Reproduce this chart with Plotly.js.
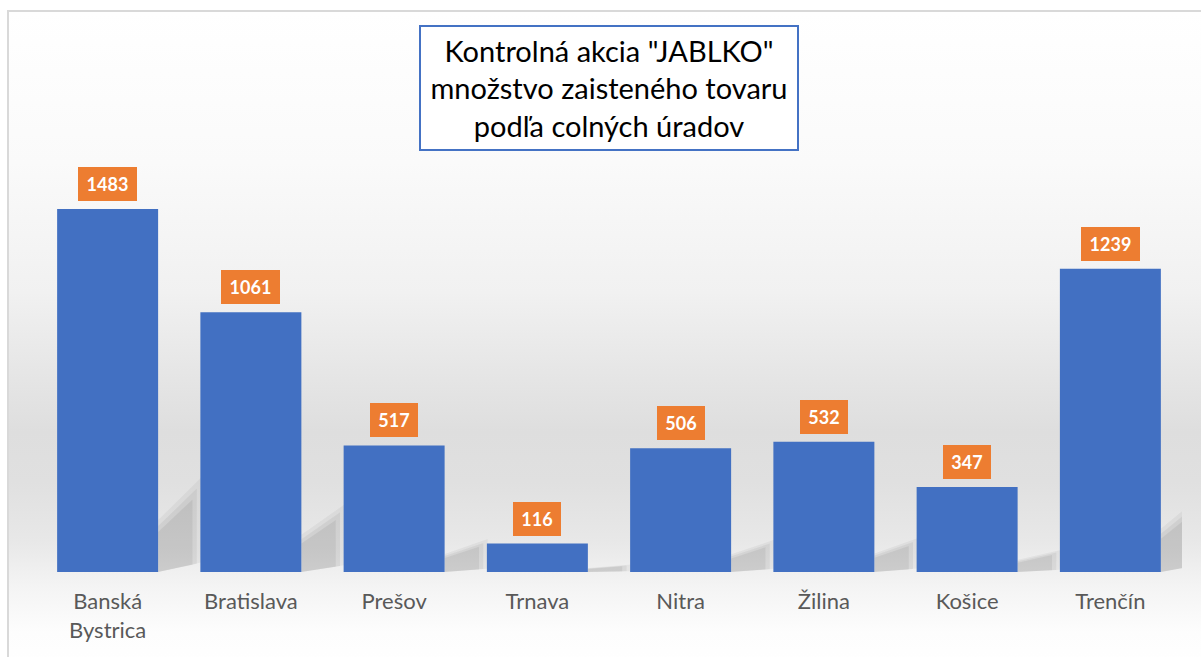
<!DOCTYPE html>
<html>
<head>
<meta charset="utf-8">
<script src="https://cdn.plot.ly/plotly-3.0.1.min.js"></script>
<style>
  html, body { margin: 0; padding: 0; background: #ffffff; }
  #wrap { position: relative; width: 1201px; height: 657px; overflow: hidden; }
  #bg {
    position: absolute; left: 7px; top: 10px; width: 1200px; height: 660px;
    border-top: 2px solid #d9d9d9; border-left: 2px solid #d9d9d9;
    background: linear-gradient(to bottom,
      #ffffff 0px, #fafafa 150px, #f1f1f1 280px, #e6e6e6 360px,
      #dedede 420px, #e0e0e0 470px, #e8e8e8 530px, #f4f4f4 575px, #fdfdfd 620px, #ffffff 660px);
  }
  #chart { position: absolute; left: 0; top: 0; width: 1201px; height: 657px; }
</style>
</head>
<body>
<div id="wrap">
  <div id="bg"></div>
  <div id="chart"></div>
</div>
<script>
const categories = ["Banská<br>Bystrica", "Bratislava", "Prešov", "Trnava", "Nitra", "Žilina", "Košice", "Trenčín"];
const values = [1483, 1061, 517, 116, 506, 532, 347, 1239];
const titleLines = ['Kontrolná akcia "JABLKO"', 'množstvo zaisteného tovaru', 'podľa colných úradov'];

const FONT = 'Lato, "Open Sans", sans-serif';
const BARGAP = 0.295;
const HALF = (1 - BARGAP) / 2;

const trace = {
  type: 'bar',
  x: categories,
  y: values,
  marker: { color: '#4270c2', line: { width: 0 } },
  hoverinfo: 'x+y'
};

const annotations = values.map((v, i) => ({
  x: categories[i], y: v, xref: 'x', yref: 'y',
  text: '<b>' + v + '</b>',
  showarrow: false,
  yanchor: 'bottom', yshift: 8,
  bgcolor: '#ed7d31',
  borderwidth: 0, borderpad: 0,
  width: String(v).length >= 4 ? 59 : 48,
  height: 34,
  font: { family: FONT, size: 18, color: '#ffffff' }
}));

annotations.push({
  xref: 'paper', yref: 'paper', x: 0.5, y: 0.861,
  xanchor: 'center', yanchor: 'middle',
  text: titleLines.join('<br>'),
  showarrow: false,
  align: 'center',
  bgcolor: '#ffffff',
  bordercolor: '#4472c4', borderwidth: 2, borderpad: 0,
  width: 376, height: 122,
  font: { family: FONT, size: 29, color: '#000000' }
});

// soft diagonal drop shadows behind each bar (decorative), derived from bar index/value
const shapes = [];
const layers = [
  { w: 0.30, k: 0.26, op: 0.045 },
  { w: 0.27, k: 0.23, op: 0.05 },
  { w: 0.24, k: 0.20, op: 0.06 }
];
values.forEach((v, i) => {
  const xr = i + HALF;
  layers.forEach(L => {
    const top = L.k * v;
    const path = 'M ' + xr + ' 0' +
      ' L ' + xr + ' ' + (top * 0.55) +
      ' L ' + (xr + L.w) + ' ' + top +
      ' L ' + (xr + L.w) + ' ' + (top * 0.1) + ' Z';
    shapes.push({
      type: 'path', xref: 'x2', yref: 'y', layer: 'below',
      path: path, fillcolor: 'rgba(0,0,0,' + L.op + ')', line: { width: 0 }
    });
  });
});

const layout = {
  width: 1201, height: 657,
  margin: { l: 36, r: 19, t: 10, b: 85 },
  paper_bgcolor: 'rgba(0,0,0,0)',
  plot_bgcolor: 'rgba(0,0,0,0)',
  bargap: BARGAP,
  showlegend: false,
  xaxis: {
    type: 'category',
    showgrid: false, zeroline: false, showline: false,
    ticks: '', ticklabelstandoff: 14,
    tickfont: { family: FONT, size: 22, color: '#595959' }
  },
  xaxis2: {
    overlaying: 'x', range: [-0.5, categories.length - 0.5],
    visible: false, showgrid: false, zeroline: false, fixedrange: true
  },
  yaxis: {
    range: [0, 2296],
    visible: false, showgrid: false, zeroline: false
  },
  shapes: shapes,
  annotations: annotations
};

Plotly.newPlot('chart', [trace], layout, { displayModeBar: false, staticPlot: true });
</script>
</body>
</html>
